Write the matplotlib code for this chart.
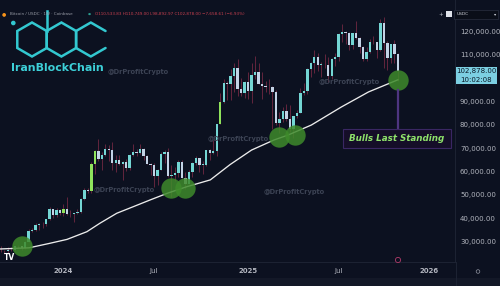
import numpy as np
import pandas as pd
import matplotlib
matplotlib.use("Agg")
from matplotlib import pyplot as plt
from matplotlib.patches import RegularPolygon, Rectangle, Circle
import matplotlib.dates as mdates

# Weekly BTC candles (Coinbase)
weeks = pd.date_range("2023-08-28", "2025-11-03", freq="W-MON")
opens = [26100, 25800, 25850, 26550, 26250, 27950, 27950, 27150, 29950, 34500, 35000, 37050, 37350, 37450, 39450, 43750, 41350, 43700,
         42280, 43950, 41750, 41600, 42050, 42600, 48300, 52100, 51750, 63100, 68900, 65300, 67200, 69700, 69400, 63450, 64950, 63100,
         64000, 61500, 66950, 68500, 67750, 69650, 66650, 63200, 62700, 57900, 60800, 67600, 68250, 58200, 58700, 59450, 64200, 57300,
         54850, 59950, 63600, 65600, 62850, 62900, 69000, 67950, 68750, 80400, 89850, 97950, 97300, 101100, 104450, 95250, 93700,
         98300, 94500, 101300, 102600, 97700, 96500, 96150, 96300, 94270, 80700, 82600, 86100, 82400, 78400, 83750, 85200, 93750,
         94300, 104100, 106450, 109000, 105700, 105700, 105500, 100950, 108350, 109200, 119100, 119800, 119450, 114200, 119300,
         117400, 113500, 108250, 111150, 115300, 115300, 112150, 123500, 115050, 108650, 114500, 110533]
highs = [28150, 26400, 27450, 27450, 28050, 28600, 28000, 30400, 35200, 35950, 37950, 37950, 38400, 39700, 44700, 43800, 44300, 43800,
         45900, 49050, 43600, 42250, 43850, 48600, 52800, 52950, 64000, 69000, 73800, 68150, 71700, 71300, 72750, 66900, 67200, 64700,
         65500, 67700, 71950, 69550, 71950, 70200, 66950, 63800, 63800, 61000, 68400, 69400, 70000, 62750, 61800, 65050, 64950, 59800,
         60650, 64100, 66500, 65650, 64500, 69400, 69500, 73600, 80500, 93500, 99600, 98700, 104000, 106500, 108300, 99950, 98900,
         102700, 106400, 109300, 106450, 102500, 98800, 99500, 96500, 95000, 85300, 87450, 88750, 88500, 83600, 86500, 95800, 97900,
         104300, 107100, 111950, 110700, 106800, 110500, 108900, 108500, 110600, 119500, 123200, 120250, 119800, 119400, 124450,
         117600, 113600, 113400, 116800, 117900, 115400, 125500, 126200, 116000, 114000, 116400, 110749]
lows = [25350, 24900, 24900, 26000, 26000, 27200, 26550, 26950, 29850, 33900, 34550, 34800, 35600, 36850, 39200, 40200, 40550, 41400,
        40750, 41500, 40600, 38500, 41800, 42250, 47700, 50600, 50900, 59000, 64500, 60700, 66800, 64500, 60800, 59600, 62800, 56550,
        60200, 60800, 66600, 66600, 67600, 65100, 63000, 58400, 53500, 54300, 60600, 63500, 57500, 49000, 56100, 57800, 57200, 52550,
        54600, 57500, 62700, 59850, 58900, 62400, 65100, 67500, 66800, 80200, 89400, 90800, 90500, 94200, 92200, 92500, 91300,
        91200, 89250, 99500, 97500, 91200, 94100, 93300, 78250, 80000, 76600, 81200, 81600, 77100, 74400, 83100, 85100, 92800,
        93400, 100700, 102100, 103100, 100400, 104500, 98200, 99700, 105300, 107500, 115700, 114700, 111900, 112650, 116800,
        110700, 107300, 107300, 110600, 114800, 108600, 111650, 104500, 103500, 106600, 106300, 98893]
closes = [25800, 25850, 26550, 26250, 27950, 27950, 27150, 29950, 34500, 35000, 37050, 37350, 37450, 39450, 43750, 41350, 43700, 42280,
          43950, 41750, 41600, 42050, 42600, 48300, 52100, 51750, 63100, 68900, 65300, 67200, 69700, 69400, 63450, 64950, 63100, 64000,
          61500, 66950, 68500, 67750, 69650, 66650, 63200, 62700, 57900, 60800, 67600, 68250, 58200, 58700, 59450, 64200, 57300, 54850,
          59950, 63600, 65600, 62850, 62900, 69000, 67950, 68750, 80400, 89850, 97950, 97300, 101100, 104450, 95250, 93700, 98300,
          94500, 101300, 102600, 97700, 96500, 96150, 96300, 94270, 80700, 82600, 86100, 82400, 78400, 83750, 85200, 93750, 94300,
          104100, 106450, 109000, 105700, 105700, 105500, 100950, 108350, 109200, 119100, 119800, 119450, 114200, 119300, 117400,
          113500, 108250, 111150, 115300, 115300, 112150, 123500, 115050, 108650, 114500, 110550, 102878]
highlight_weeks = ["2024-01-01", "2024-02-26", "2024-03-04", "2024-11-11"]

# 50-week moving average (white line)
ma_dates = ["2023-08-27", "2023-10-24", "2023-12-04", "2024-01-08", "2024-02-17", "2024-03-14", "2024-04-17",
            "2024-05-20", "2024-06-23", "2024-07-28", "2024-09-05", "2024-10-22", "2024-12-01", "2025-01-13",
            "2025-02-27", "2025-03-27", "2025-05-13", "2025-07-12", "2025-09-05", "2025-11-03"]
ma_values = [26800, 27300, 29200, 30900, 34200, 37800, 42100, 44900, 47800, 50700, 53500, 56400, 63000, 69200,
             73500, 75600, 79900, 87600, 94100, 99300]

# green "touch" circles
touch_dates = ["2023-10-09", "2024-08-05", "2024-09-02", "2025-03-10", "2025-04-10", "2025-11-03"]
touch_prices = [28100, 52800, 53100, 74900, 75600, 99400]

price_ticks = [30000, 40000, 50000, 60000, 70000, 80000, 90000, 110000, 120000]
time_ticks = ["2024-01-01", "2024-07-01", "2025-01-06", "2025-07-07", "2026-01-05"]
time_labels = ["2024", "Jul", "2025", "Jul", "2026"]
last_price = 102878.00
countdown = "10:02:08"

BG = "#0c1120"
UP = "#74d6d4"
DOWN = "#c3d3e6"
LIME = "#8fe35c"
WICK = "#7a2a45"
W, H = 500, 286

fig = plt.figure(figsize=(5, 2.86), dpi=100, facecolor=BG)
ax = fig.add_axes([0, 1 - 262 / H, 455 / W, 262 / H], facecolor=BG)

d = mdates.date2num(weeks)
o = np.array(opens, float)
c = np.array(closes, float)
hi = np.array(highs, float)
lo = np.array(lows, float)
lime = set(mdates.date2num(pd.to_datetime(highlight_weeks)))
colors = [LIME if x in lime else (UP if cc >= oo else DOWN) for x, oo, cc in zip(d, o, c)]

ax.vlines(d, lo, hi, color=WICK, lw=0.55, zorder=2)
ax.bar(d, np.maximum(np.abs(c - o), 250), bottom=np.minimum(o, c), width=4.8,
       color=colors, linewidth=0, zorder=3)

ax.plot(pd.to_datetime(ma_dates), ma_values, color="#ececec", lw=0.95, zorder=4)
ax.scatter(pd.to_datetime(touch_dates), touch_prices, s=215, color="#3e8a2b", alpha=0.85,
           linewidths=0, zorder=5)

ref = mdates.date2num(pd.Timestamp("2024-01-01"))
ax.set_xlim(ref - 18.23 * 7, ref + 112.4 * 7)
ax.set_ylim(21214, 133500)

ax.yaxis.tick_right()
ax.set_yticks(price_ticks)
ax.set_yticklabels([f"{v:,.2f}" for v in price_ticks])
ax.set_xticks(mdates.date2num(pd.to_datetime(time_ticks)))
ax.set_xticklabels(time_labels)
for lab in ax.get_xticklabels():
    if lab.get_text().isdigit():
        lab.set_fontweight("bold")
ax.tick_params(axis="y", length=0, pad=3.6, labelsize=5, labelcolor="#b2b5be")
ax.tick_params(axis="x", length=0, pad=4.3, labelsize=5, labelcolor="#b2b5be")
for s in ["top", "left"]:
    ax.spines[s].set_visible(False)
for s in ["right", "bottom"]:
    ax.spines[s].set_color("#1d2333")
    ax.spines[s].set_linewidth(0.7)

# overlay in pixel coordinates for annotations / screenshot chrome
ov = fig.add_axes([0, 0, 1, 1], facecolor="none")
ov.set_xlim(0, W)
ov.set_ylim(H, 0)
ov.axis("off")

ov.plot([455.5, 455.5], [262, 286], color="#1d2333", lw=0.7)
ov.add_patch(Rectangle((0, 278), W, 8, color="#151b2a", alpha=0.8, lw=0))

# header
ov.text(1.5, 14, "●", color="#f7931a", fontsize=3.5, va="center")
ov.text(10, 14, "Bitcoin / USDC · 1W · Coinbase", color="#9a9ea8", fontsize=3, va="center")
ov.text(88, 14, "●", color="#2a9d8f", fontsize=2.5, va="center")
ov.text(95, 14, "O110,533.83 H110,749.00 L98,892.97 C102,878.00 −7,658.61 (−6.93%)",
        color="#c8404f", fontsize=3, va="center")

# logo
cyan = "#33c8d0"
r = 17
for cx in [32, 61.4]:
    ov.add_patch(RegularPolygon((cx, 39.5), 6, radius=r, fill=False, ec=cyan, lw=1.8))
ang = np.deg2rad([30, 90, 150, 210, 270, 330])
ov.plot(90.8 + r * np.cos(ang), 39.5 - r * np.sin(ang), color=cyan, lw=1.8, solid_capstyle="round")
ov.plot([46.7, 46.7], [11, 31], color=cyan, lw=1.8)
ov.add_patch(Circle((13.3, 23), 1.6, color=cyan))
ov.text(11, 68, "IranBlockChain", color="#3dd0d8", fontsize=7.9, fontweight="bold", va="center")

# watermarks
for x, y in [(138, 72), (349, 82), (238, 139), (124, 190), (294, 192)]:
    ov.text(x, y, "@DrProfitCrypto", color="#3c4354", fontsize=4.8, fontweight="bold",
            ha="center", va="center")

# annotation
ov.plot([398, 398], [90, 129], color="#4e3580", lw=1.6, zorder=1)
ov.add_patch(Rectangle((343, 129), 108, 19, fc="#150e28", ec="#3a2763", lw=0.8))
ov.text(397, 138.5, "Bulls Last Standing", color="#8fe36b", fontsize=6.3, fontweight="bold",
        fontstyle="italic", ha="center", va="center")

# last price box
ov.add_patch(Rectangle((456, 67), 41, 17, fc="#7ccfe2", lw=0))
ov.text(476.5, 71.5, f"{last_price:,.2f}", color="#0b1a28", fontsize=5, ha="center", va="center")
ov.text(476.5, 79.5, countdown, color="#0b1a28", fontsize=5, ha="center", va="center")

# top-right chrome
ov.add_patch(Rectangle((454, 10), 44, 8.5, fc="#0a0e18", ec="#2a3040", lw=0.5))
ov.text(457, 14.3, "USDC", color="#d0d3da", fontsize=3.2, va="center")
ov.text(495, 14.3, "▾", color="#d0d3da", fontsize=3.2, va="center", ha="center")
ov.add_patch(Rectangle((446, 11), 6, 6, fc="#e0e3ea", lw=0))
ov.text(440.5, 14, "+", color="#c0c4cc", fontsize=4, ha="center", va="center")

# bottom chrome
ov.text(9, 258, "TV", color="white", fontsize=5.5, fontweight="bold", ha="center", va="center")
ov.add_patch(Circle((398, 260), 2.6, fill=False, ec="#b03a6a", lw=0.6))
ov.add_patch(Circle((478, 271.5), 1.8, fill=False, ec="#9094a0", lw=0.5))

fig.savefig("out.png", dpi=100, facecolor=BG)
